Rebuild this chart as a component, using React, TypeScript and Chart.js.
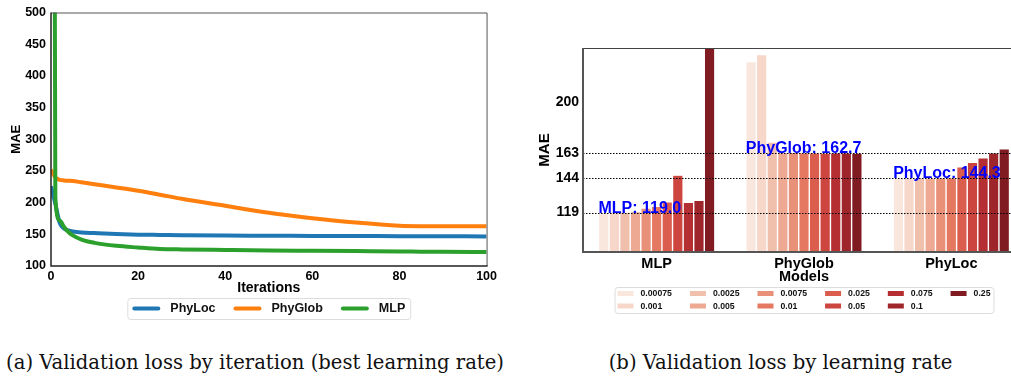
import React, { useEffect, useRef } from "react";
import { Chart, registerables } from "chart.js";

Chart.register(...registerables);

// ---------- Left chart data: validation loss by iteration ----------
const iterations = [0, 1, 2, 3, 4, 5, 7, 10, 15, 20, 25, 30, 40, 50, 60, 70, 80, 85, 90, 100];
const phyLocLoss = [226, 198, 168, 159, 156, 154.5, 153, 152, 150.5, 149.5, 149, 148.5, 148, 147.8, 147.5, 147.3, 147.1, 147, 146.9, 146.7];
const phyGlobLoss = [252, 239.5, 236, 235, 234.5, 234, 232, 229, 224, 218.7, 212.5, 206, 195, 184, 175.5, 168.5, 163.5, 162.8, 162.7, 162.7];
const mlpLoss = [3000, 208, 172, 161.5, 153.7, 148.4, 141.7, 136.5, 131.8, 129.2, 127, 126.2, 125.3, 124.5, 124, 123.5, 123, 122.6, 122.3, 121.9];
const lineSeriesNames = ["PhyLoc", "PhyGlob", "MLP"];
const lineColors = ["#1f77b4", "#ff7f0e", "#2ca02c"];
const lineYTicks = [100, 150, 200, 250, 300, 350, 400, 450, 500];
const lineXTicks = [0, 20, 40, 60, 80, 100];

// ---------- Right chart data: validation loss by learning rate ----------
const models = ["MLP", "PhyGlob", "PhyLoc"];
const learningRates = ["0.00075", "0.001", "0.0025", "0.005", "0.0075", "0.01", "0.025", "0.05", "0.075", "0.1", "0.25"];
const mlpMae = [119.0, 119.4, 119.3, 119.8, 122.4, 123.6, 126.9, 146.5, 126.6, 128.1, 300];
const phyGlobMae = [230.0, 235.1, 170.8, 163.2, 163.4, 163.0, 162.9, 162.7, 163.0, 162.9, 162.8];
const phyLocMae = [144.3, 144.6, 144.5, 144.4, 144.5, 144.6, 152.6, 156.0, 159.3, 163.0, 165.9];
const bestMae = [119.0, 162.7, 144.3];
const barYTicks = [119.0, 144.3, 162.7, 200];
const lrColors = ["#f9e7dd", "#f6d7c9", "#f1c0ac", "#eda991", "#e99078", "#e57860", "#db5d4e", "#cc453f", "#b52e32", "#9e262b", "#7f1b21"];

const SANS = '"Liberation Sans", Arial, sans-serif';

function roundRect(ctx: CanvasRenderingContext2D, x: number, y: number, w: number, h: number, r: number) {
  ctx.beginPath();
  ctx.moveTo(x + r, y);
  ctx.lineTo(x + w - r, y);
  ctx.arcTo(x + w, y, x + w, y + r, r);
  ctx.lineTo(x + w, y + h - r);
  ctx.arcTo(x + w, y + h, x + w - r, y + h, r);
  ctx.lineTo(x + r, y + h);
  ctx.arcTo(x, y + h, x, y + h - r, r);
  ctx.lineTo(x, y + r);
  ctx.arcTo(x, y, x + r, y, r);
  ctx.closePath();
}

const lineDecor = {
  id: "lineDecor",
  afterDraw(chart: any) {
    const ctx: CanvasRenderingContext2D = chart.ctx;
    const ca = chart.chartArea;
    ctx.save();
    // frame
    ctx.lineWidth = 1;
    ctx.strokeStyle = "#555";
    ctx.beginPath();
    ctx.moveTo(ca.left, ca.top + 0.5);
    ctx.lineTo(ca.right + 0.5, ca.top + 0.5);
    ctx.lineTo(ca.right + 0.5, ca.bottom);
    ctx.stroke();
    ctx.lineWidth = 1.5;
    ctx.strokeStyle = "#222";
    ctx.beginPath();
    ctx.moveTo(ca.left, ca.top);
    ctx.lineTo(ca.left, ca.bottom);
    ctx.lineTo(ca.right + 1, ca.bottom);
    ctx.stroke();

    // legend
    ctx.font = `bold 12.5px ${SANS}`;
    const handle = 28, gap = 10, colSpace = 18, padX = 5;
    const widths = lineSeriesNames.map((n) => ctx.measureText(n).width);
    const total = widths.reduce((a, w) => a + handle + gap + w, 0) + colSpace * (lineSeriesNames.length - 1);
    const cx = (ca.left + ca.right) / 2;
    let x = cx - total / 2;
    const top = 298, h = 21, cy = top + h / 2;
    roundRect(ctx, x - padX + 0.5, top + 0.5, total + 2 * padX, h, 3);
    ctx.fillStyle = "rgba(255,255,255,0.85)";
    ctx.fill();
    ctx.strokeStyle = "#dcdcdc";
    ctx.lineWidth = 1;
    ctx.stroke();
    lineSeriesNames.forEach((n, i) => {
      ctx.strokeStyle = lineColors[i];
      ctx.lineWidth = 4;
      ctx.lineCap = "round";
      ctx.beginPath();
      ctx.moveTo(x + 2, cy);
      ctx.lineTo(x + handle - 2, cy);
      ctx.stroke();
      ctx.fillStyle = "#111";
      ctx.textBaseline = "middle";
      ctx.textAlign = "left";
      ctx.fillText(n, x + handle + gap, cy + 0.5);
      x += handle + gap + widths[i] + colSpace;
    });
    ctx.restore();
  },
};

const barDecor = {
  id: "barDecor",
  afterDatasetsDraw(chart: any) {
    const ctx: CanvasRenderingContext2D = chart.ctx;
    const ca = chart.chartArea;
    const ys = chart.scales.y;
    ctx.save();
    // dotted reference lines
    ctx.strokeStyle = "#000";
    ctx.lineWidth = 1;
    ctx.setLineDash([1.5, 1.5]);
    bestMae.forEach((v) => {
      const y = Math.round(ys.getPixelForValue(v)) + 0.5;
      ctx.beginPath();
      ctx.moveTo(ca.left, y);
      ctx.lineTo(ca.right, y);
      ctx.stroke();
    });
    ctx.setLineDash([]);
    // best labels
    const meta0 = chart.getDatasetMeta(0);
    ctx.font = `bold 16px ${SANS}`;
    ctx.fillStyle = "#0000ff";
    ctx.textAlign = "left";
    ctx.textBaseline = "alphabetic";
    models.forEach((m, i) => {
      const bar = meta0.data[i];
      const left = bar.x - bar.width / 2;
      ctx.fillText(`${m}: ${bestMae[i].toFixed(1)}`, left, ys.getPixelForValue(bestMae[i]));
    });
    ctx.restore();
  },
  afterDraw(chart: any) {
    const ctx: CanvasRenderingContext2D = chart.ctx;
    const ca = chart.chartArea;
    ctx.save();
    // spines
    ctx.strokeStyle = "#444";
    ctx.lineWidth = 1;
    ctx.beginPath();
    ctx.moveTo(ca.left, ca.top + 0.5);
    ctx.lineTo(ca.right + 20, ca.top + 0.5);
    ctx.stroke();
    ctx.strokeStyle = "#555";
    ctx.lineWidth = 2;
    ctx.beginPath();
    ctx.moveTo(ca.left, ca.top);
    ctx.lineTo(ca.left, ca.bottom);
    ctx.lineTo(ca.right + 20, ca.bottom);
    ctx.stroke();

    // legend: 6 columns x 2 rows, column-major
    ctx.font = `bold 8.7px ${SANS}`;
    const handle = 16, gap = 7, colSpace = 18, padX = 3;
    const nCols = Math.ceil(learningRates.length / 2);
    const colW: number[] = [];
    for (let c = 0; c < nCols; c++) {
      const a = ctx.measureText(learningRates[2 * c]).width;
      const b = 2 * c + 1 < learningRates.length ? ctx.measureText(learningRates[2 * c + 1]).width : 0;
      colW.push(handle + gap + Math.max(a, b));
    }
    const total = colW.reduce((a, w) => a + w, 0) + colSpace * (nCols - 1);
    const cx = (ca.left + ca.right) / 2;
    let x = cx - total / 2;
    const top = 257, h = 26;
    roundRect(ctx, x - padX + 0.5, top + 0.5, total + 2 * padX, h, 3);
    ctx.fillStyle = "rgba(255,255,255,0.85)";
    ctx.fill();
    ctx.strokeStyle = "#dcdcdc";
    ctx.lineWidth = 1;
    ctx.stroke();
    const rowY = [top + 6.5, top + 19];
    for (let c = 0; c < nCols; c++) {
      for (let r = 0; r < 2; r++) {
        const idx = 2 * c + r;
        if (idx >= learningRates.length) continue;
        ctx.fillStyle = lrColors[idx];
        ctx.fillRect(x, rowY[r] - 2.5, handle, 5);
        ctx.fillStyle = "#111";
        ctx.textAlign = "left";
        ctx.textBaseline = "middle";
        ctx.fillText(learningRates[idx], x + handle + gap, rowY[r] + 0.5);
      }
      x += colW[c] + colSpace;
    }
    ctx.restore();
  },
};

export default function App() {
  const leftRef = useRef<HTMLCanvasElement>(null);
  const rightRef = useRef<HTMLCanvasElement>(null);

  useEffect(() => {
    const lossSeries = [phyLocLoss, phyGlobLoss, mlpLoss];
    const left = new Chart(leftRef.current as HTMLCanvasElement, {
      type: "line",
      data: {
        datasets: lineSeriesNames.map((name, i) => ({
          label: name,
          data: iterations.map((x, j) => ({ x, y: lossSeries[i][j] })),
          borderColor: lineColors[i],
          backgroundColor: lineColors[i],
          borderWidth: 4,
          pointRadius: 0,
          cubicInterpolationMode: "monotone" as const,
          order: lineSeriesNames.length - 1 - i,
        })),
      },
      options: {
        responsive: false,
        animation: false,
        layout: { padding: { left: 10, top: 10, right: 11, bottom: 35 } },
        plugins: { legend: { display: false }, tooltip: { enabled: false } },
        scales: {
          x: {
            type: "linear",
            min: 0,
            max: 100,
            afterBuildTicks: (s: any) => {
              s.ticks = lineXTicks.map((v) => ({ value: v }));
            },
            afterFit: (s: any) => {
              s.height = 29;
            },
            grid: { display: false, drawTicks: false },
            border: { display: false },
            ticks: { padding: 3, color: "#000", maxRotation: 0, font: { family: SANS, size: 12.5, weight: "bold" } },
            title: { display: true, text: "Iterations", color: "#000", padding: 0, font: { family: SANS, size: 14, weight: "bold", lineHeight: 1 } },
          },
          y: {
            type: "linear",
            min: 100,
            max: 500,
            afterBuildTicks: (s: any) => {
              s.ticks = lineYTicks.map((v) => ({ value: v }));
            },
            afterFit: (s: any) => {
              s.width = 41;
            },
            grid: { display: false, drawTicks: false },
            border: { display: false },
            ticks: { padding: 5, color: "#000", font: { family: SANS, size: 12.5, weight: "bold" } },
            title: { display: true, text: "MAE", color: "#000", padding: 0, font: { family: SANS, size: 13, weight: "bold", lineHeight: 1 } },
          },
        },
      },
      plugins: [lineDecor],
    } as any);

    const maeByModel = [mlpMae, phyGlobMae, phyLocMae];
    const right = new Chart(rightRef.current as HTMLCanvasElement, {
      type: "bar",
      data: {
        labels: models,
        datasets: learningRates.map((lr, i) => ({
          label: lr,
          data: maeByModel.map((arr) => arr[i]),
          backgroundColor: lrColors[i],
          borderColor: "rgba(255,255,255,0.8)",
          borderWidth: 0.7,
          barPercentage: 1,
          categoryPercentage: 0.79,
        })),
      },
      options: {
        responsive: false,
        animation: false,
        layout: { padding: { left: 7, top: 18, right: 5, bottom: 46 } },
        plugins: { legend: { display: false }, tooltip: { enabled: false } },
        scales: {
          x: {
            afterFit: (s: any) => {
              s.height = 32;
            },
            grid: { display: false, drawTicks: false },
            border: { display: false },
            ticks: { padding: 3, color: "#000", maxRotation: 0, font: { family: SANS, size: 14.5, weight: "bold" } },
            title: { display: true, text: "Models", color: "#000", padding: 0, font: { family: SANS, size: 14.5, weight: "bold", lineHeight: 1 } },
          },
          y: {
            type: "linear",
            min: 90,
            max: 240,
            afterBuildTicks: (s: any) => {
              s.ticks = barYTicks.map((v) => ({ value: v }));
            },
            afterFit: (s: any) => {
              s.width = 46;
            },
            grid: { display: false, drawTicks: false },
            border: { display: false },
            ticks: {
              padding: 4,
              color: "#000",
              font: { family: SANS, size: 14, weight: "bold" },
              callback: (v: any) => String(Math.round(Number(v))),
            },
            title: { display: true, text: "MAE", color: "#000", padding: 0, font: { family: SANS, size: 15, weight: "bold", lineHeight: 1 } },
          },
        },
      },
      plugins: [barDecor],
    } as any);

    return () => {
      left.destroy();
      right.destroy();
    };
  }, []);

  const captionStyle: React.CSSProperties = {
    position: "absolute",
    top: 353,
    fontFamily: '"DejaVu Serif", "Liberation Serif", serif',
    fontSize: 19.6,
    lineHeight: "20px",
    color: "#111",
    textAlign: "center",
    whiteSpace: "nowrap",
  };

  return (
    <div style={{ position: "fixed", left: 0, top: 0, width: 1011, height: 378, overflow: "hidden", background: "#fff" }}>
      <canvas ref={leftRef} width={500} height={330} style={{ position: "absolute", left: 0, top: 0 }} />
      <canvas ref={rightRef} width={500} height={300} style={{ position: "absolute", left: 530, top: 30 }} />
      <div style={{ ...captionStyle, left: 0, width: 510 }}>(a) Validation loss by iteration (best learning rate)</div>
      <div style={{ ...captionStyle, left: 530, width: 501 }}>(b) Validation loss by learning rate</div>
    </div>
  );
}
